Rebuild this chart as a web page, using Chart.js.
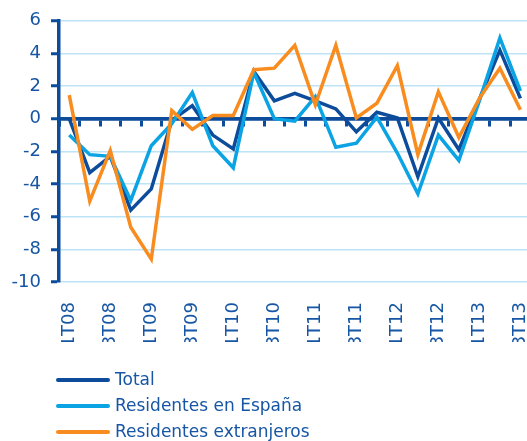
<!DOCTYPE html>
<html>
<head>
<meta charset="utf-8">
<script src="https://cdn.jsdelivr.net/npm/chart.js@4"></script>
<style>
  html, body { margin: 0; padding: 0; background: #fff; overflow: hidden; }
  #wrap { width: 554px; height: 441px; }
</style>
</head>
<body>
<div id="wrap"><canvas id="chart" width="554" height="441"></canvas></div>
<script>
    const quarters = ['1T08', '2T08', '3T08', '4T08', '1T09', '2T09', '3T09', '4T09',
        '1T10', '2T10', '3T10', '4T10', '1T11', '2T11', '3T11', '4T11',
        '1T12', '2T12', '3T12', '4T12', '1T13', '2T13', '3T13'];

    const total = [0.0, -3.3, -2.3, -5.6, -4.3, -0.1, 0.8, -1.0, -1.85, 2.9, 1.1, 1.55,
        1.1, 0.6, -0.8, 0.4, 0.05, -3.55, 0.05, -1.9, 1.2, 4.2, 1.25];
    const residentesEspana = [-1.0, -2.2, -2.3, -5.0, -1.65, -0.3, 1.6, -1.65, -3.0, 2.85, 0.0, -0.15,
        1.35, -1.75, -1.5, 0.1, -2.1, -4.6, -1.0, -2.55, 1.1, 4.95, 1.7];
    const residentesExtranjeros = [1.45, -5.05, -1.95, -6.65, -8.6, 0.5, -0.65, 0.2, 0.2, 3.0, 3.1, 4.5,
        0.85, 4.5, 0.05, 0.95, 3.25, -2.2, 1.65, -1.15, 1.25, 3.1, 0.55];

    const yMin = -10;
    const yMax = 6;
    const yStep = 2;

    const darkBlue = '#0d4c9b';
    const textBlue = '#1756a4';
    const gridBlue = '#bde3f6';
    const font = 'DejaVu Sans';

    // legend drawn as a vertical list under the axis labels
    const listLegend = {
        id: 'listLegend',
        afterDraw(chart) {
            const ctx = chart.ctx;
            ctx.save();
            ctx.font = '17px "' + font + '"';
            ctx.textBaseline = 'middle';
            chart.data.datasets.forEach((ds, i) => {
                const y = 380 + i * 26;
                ctx.strokeStyle = ds.borderColor;
                ctx.lineWidth = 4;
                ctx.lineCap = 'round';
                ctx.beginPath();
                ctx.moveTo(58, y);
                ctx.lineTo(108, y);
                ctx.stroke();
                ctx.fillStyle = textBlue;
                ctx.fillText(ds.label, 115, y + 1);
            });
            ctx.restore();
        }
    };

    const ctx = document.getElementById('chart').getContext('2d');
    new Chart(ctx, {
        type: 'line',
        data: {
            labels: quarters,
            datasets: [
                {
                    label: 'Total',
                    data: total,
                    borderColor: darkBlue,
                    order: 2
                },
                {
                    label: 'Residentes en España',
                    data: residentesEspana,
                    borderColor: '#0aa3e3',
                    order: 1
                },
                {
                    label: 'Residentes extranjeros',
                    data: residentesExtranjeros,
                    borderColor: '#f98c1f',
                    order: 0
                }
            ]
        },
        options: {
            responsive: false,
            animation: false,
            layout: { padding: { top: 16, right: 0, bottom: 99, left: 0 } },
            elements: {
                line: { borderWidth: 3.5, tension: 0, fill: false, borderJoinStyle: 'miter' },
                point: { radius: 0 }
            },
            plugins: {
                legend: { display: false },
                tooltip: { enabled: false }
            },
            scales: {
                x: {
                    type: 'category',
                    offset: true,
                    grid: { display: false },
                    border: { display: false },
                    afterFit: s => { s.height = 60; },
                    ticks: {
                        autoSkip: false,
                        maxRotation: 90,
                        minRotation: 90,
                        padding: 12,
                        color: textBlue,
                        font: { family: font, size: 18 },
                        callback: (v, i) => (i % 2 === 0 ? quarters[i] : '')
                    }
                },
                x2: {
                    type: 'category',
                    position: { y: 0 },
                    offset: true,
                    afterFit: s => { s.height = 0; },
                    grid: {
                        offset: true,
                        drawOnChartArea: false,
                        drawTicks: true,
                        tickLength: 6,
                        tickWidth: 3,
                        tickColor: darkBlue
                    },
                    border: { color: darkBlue, width: 3.5 },
                    ticks: { display: false }
                },
                y: {
                    min: yMin,
                    max: yMax,
                    afterFit: s => { s.width = 59; },
                    grid: {
                        color: c => (c.tick.value === 0 ? darkBlue : gridBlue),
                        lineWidth: c => (c.tick.value === 0 ? 3.5 : 1.5),
                        tickLength: 8,
                        tickWidth: 3,
                        tickColor: darkBlue
                    },
                    border: { color: darkBlue, width: 3.5 },
                    ticks: {
                        stepSize: yStep,
                        padding: 10,
                        color: textBlue,
                        font: { family: font, size: 18 }
                    }
                }
            }
        },
        plugins: [listLegend]
    });
</script>
</body>
</html>
